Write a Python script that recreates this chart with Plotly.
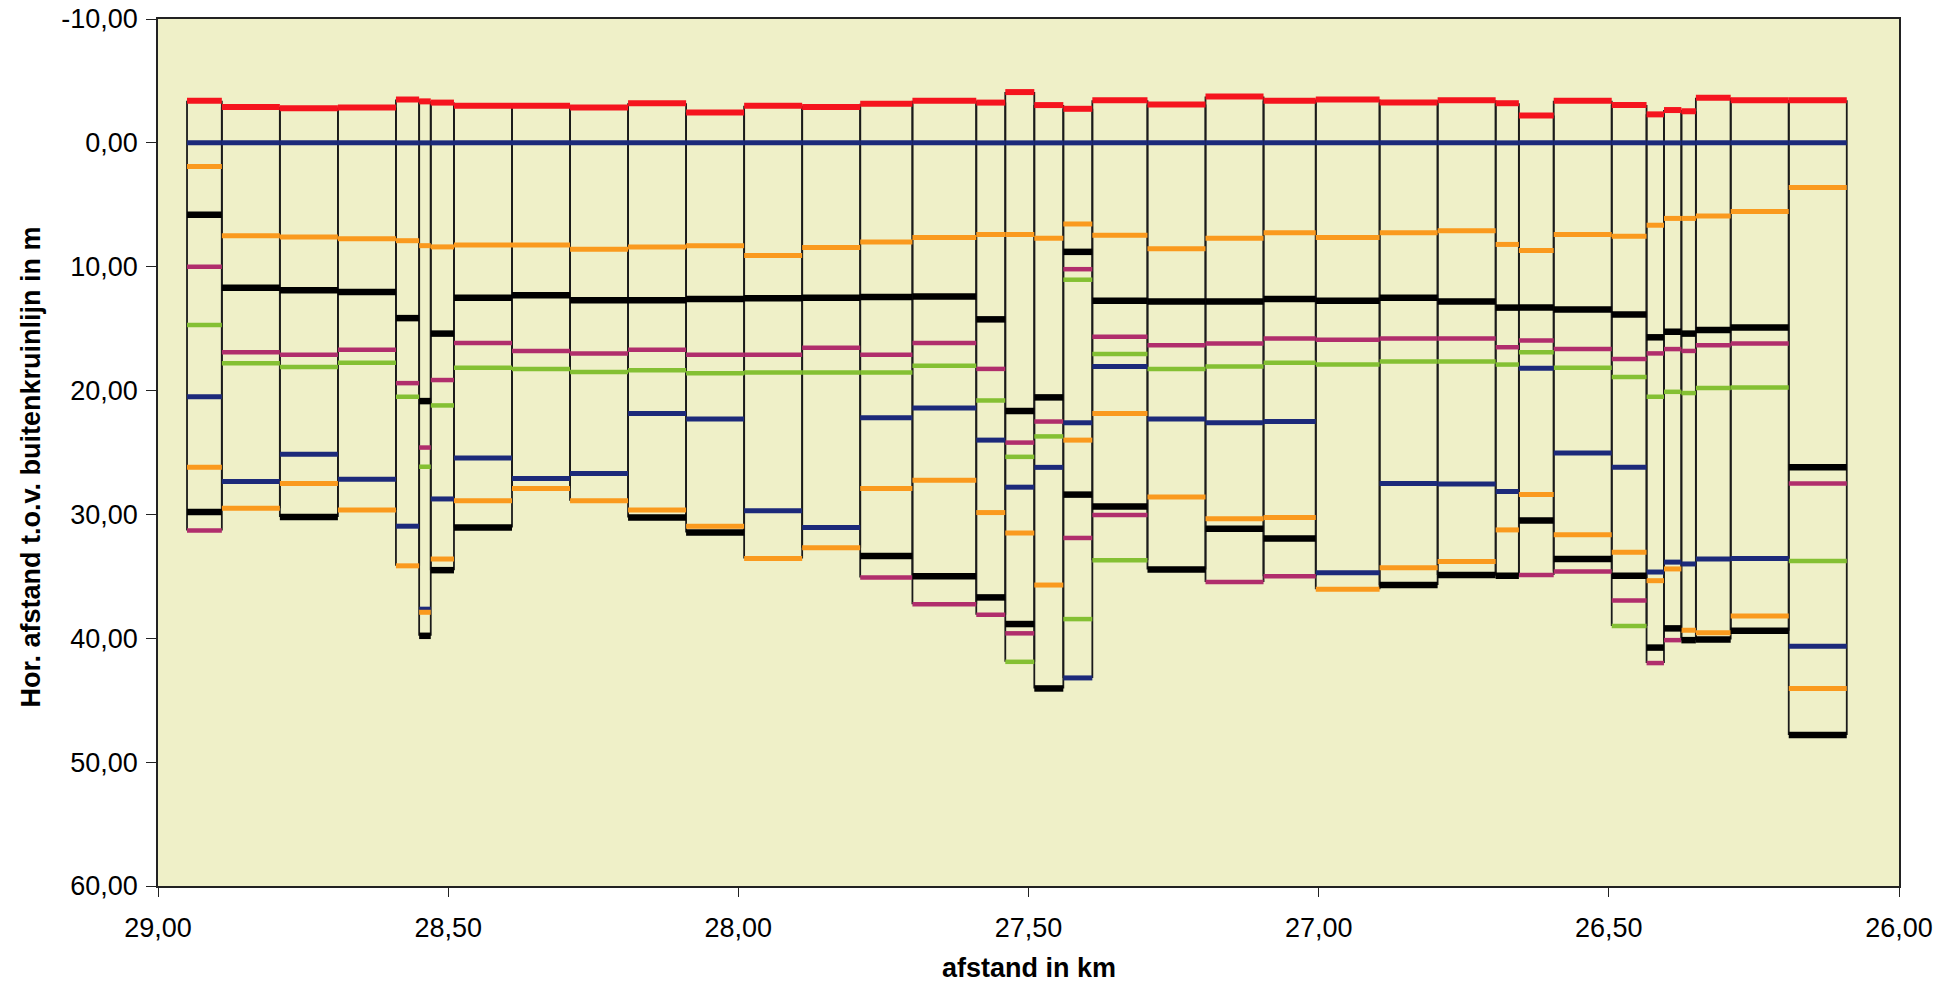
import plotly.graph_objects as go

# segment boundaries (km), 37 segments
bounds = [28.95, 28.89, 28.79, 28.69, 28.59, 28.55, 28.53, 28.49, 28.39, 28.29,
          28.19, 28.09, 27.99, 27.89, 27.79, 27.70, 27.59, 27.54, 27.49, 27.44,
          27.39, 27.295, 27.195, 27.095, 27.005, 26.895, 26.795, 26.695, 26.655, 26.595,
          26.495, 26.435, 26.405, 26.375, 26.35, 26.29, 26.19, 26.09]

N = None
red = [-3.4, -2.9, -2.8, -2.85, -3.5, -3.35, -3.25, -3.0, -3.0, -2.85,
       -3.2, -2.45, -3.0, -2.9, -3.15, -3.4, -3.25, -4.1, -3.05, -2.75,
       -3.45, -3.1, -3.75, -3.4, -3.5, -3.25, -3.45, -3.2, -2.2, -3.4,
       -3.05, -2.3, -2.65, -2.55, -3.65, -3.45, -3.45]
navy0 = [0.0] * 37
orange1 = [1.9, 7.5, 7.6, 7.75, 7.9, 8.3, 8.4, 8.25, 8.25, 8.6,
           8.4, 8.3, 9.1, 8.45, 8.0, 7.65, 7.4, 7.4, 7.7, 6.55,
           7.45, 8.55, 7.7, 7.25, 7.65, 7.25, 7.1, 8.2, 8.7, 7.4,
           7.55, 6.65, 6.1, 6.1, 5.9, 5.55, 3.6]
black1 = [5.8, 11.7, 11.9, 12.05, 14.15, 20.85, 15.4, 12.5, 12.3, 12.7,
          12.7, 12.6, 12.55, 12.5, 12.45, 12.4, 14.25, 21.65, 20.55, 8.8,
          12.75, 12.8, 12.8, 12.6, 12.75, 12.5, 12.8, 13.3, 13.3, 13.45,
          13.85, 15.7, 15.25, 15.4, 15.1, 14.9, 26.2]
purple1 = [10.0, 16.9, 17.1, 16.7, 19.4, 24.6, 19.15, 16.15, 16.8, 17.0,
           16.7, 17.1, 17.1, 16.55, 17.1, 16.15, 18.25, 24.2, 22.5, 10.2,
           15.65, 16.35, 16.2, 15.8, 15.9, 15.8, 15.8, 16.5, 15.95, 16.65,
           17.45, 17.0, 16.65, 16.8, 16.35, 16.2, 27.5]
green1 = [14.7, 17.8, 18.1, 17.75, 20.5, 26.15, 21.2, 18.15, 18.25, 18.5,
          18.35, 18.6, 18.55, 18.55, 18.55, 18.0, 20.8, 25.35, 23.7, 11.05,
          17.05, 18.25, 18.05, 17.75, 17.9, 17.65, 17.65, 17.9, 16.9, 18.15,
          18.9, 20.5, 20.1, 20.2, 19.8, 19.75, 33.75]
navy2 = [20.5, 27.35, 25.15, 27.15, 30.95, 37.65, 28.75, 25.45, 27.1, 26.7,
         21.85, 22.3, 29.7, 31.05, 22.2, 21.4, 24.0, 27.8, 26.2, 22.6,
         18.05, 22.3, 22.6, 22.5, 34.7, 27.5, 27.55, 28.15, 18.2, 25.05,
         26.2, 34.65, 33.85, 34.0, 33.6, 33.55, 40.65]
orange2 = [26.2, 29.5, 27.5, 29.65, 34.15, 37.9, 33.6, 28.9, 27.9, 28.9,
           29.65, 30.95, 33.55, 32.7, 27.9, 27.25, 29.85, 31.5, 35.7, 24.0,
           21.85, 28.6, 30.35, 30.25, 36.05, 34.3, 33.8, 31.25, 28.4, 31.65,
           33.05, 35.35, 34.4, 39.35, 39.55, 38.2, 44.05]
black2 = [29.8, N, 30.2, N, N, 39.8, 34.5, 31.05, N, N,
          30.25, 31.45, N, N, 33.35, 35.0, 36.7, 38.85, 44.05, 28.4,
          29.35, 34.45, 31.15, 31.95, N, 35.7, 34.9, 34.95, 30.5, 33.6,
          34.95, 40.75, 39.2, 40.15, 40.1, 39.4, 47.8]
purple2 = [31.3, N, N, N, N, N, N, N, N, N,
           N, N, N, N, 35.1, 37.25, 38.1, 39.6, N, 31.9,
           30.05, N, 35.45, 35.0, N, N, N, N, 34.9, 34.6,
           36.95, 42.0, 40.15, N, N, N, N]
green2 = [N, N, N, N, N, N, N, N, N, N,
          N, N, N, N, N, N, N, 41.9, N, 38.45,
          33.7, N, N, N, N, N, N, N, N, N,
          39.0, N, N, N, N, N, N]
navy3 = [N, N, N, N, N, N, N, N, N, N,
         N, N, N, N, N, N, N, N, N, 43.2,
         N, N, N, N, N, N, N, N, N, N,
         N, N, N, N, N, N, N]

x_ticks = [29.0, 28.5, 28.0, 27.5, 27.0, 26.5, 26.0]
x_labels = ["29,00", "28,50", "28,00", "27,50", "27,00", "26,50", "26,00"]
y_ticks = [-10, 0, 10, 20, 30, 40, 50, 60]
y_labels = ["-10,00", "0,00", "10,00", "20,00", "30,00", "40,00", "50,00", "60,00"]

series = [
    ("red", red, "#F5141E", 6),
    ("navy0", navy0, "#1C2A7A", 5),
    ("orange1", orange1, "#FA9A1E", 5),
    ("purple1", purple1, "#B02E6C", 4.5),
    ("green1", green1, "#84C033", 4.5),
    ("navy2", navy2, "#1C2A7A", 5),
    ("orange2", orange2, "#FA9A1E", 5),
    ("purple2", purple2, "#B02E6C", 4.5),
    ("green2", green2, "#84C033", 4.5),
    ("navy3", navy3, "#1C2A7A", 5),
    ("black1", black1, "#000000", 6.5),
    ("black2", black2, "#000000", 6.5),
]

fig = go.Figure()

# vertical box edges per segment
vx, vy = [], []
for i in range(37):
    vals = [s[1][i] for s in series if s[1][i] is not None]
    top, bot = min(vals), max(vals)
    for xb in (bounds[i], bounds[i + 1]):
        vx += [xb, xb, None]
        vy += [top, bot, None]
fig.add_trace(go.Scatter(x=vx, y=vy, mode="lines",
                         line=dict(color="#1a1a1a", width=1.8),
                         showlegend=False, hoverinfo="skip"))

for name, vals, color, w in series:
    xs, ys = [], []
    for i, v in enumerate(vals):
        if v is None:
            continue
        xs += [bounds[i], bounds[i + 1], None]
        ys += [v, v, None]
    fig.add_trace(go.Scatter(x=xs, y=ys, mode="lines", name=name,
                             line=dict(color=color, width=w),
                             showlegend=False))

font = "Liberation Sans, Arial, sans-serif"
fig.update_layout(
    width=1940, height=987,
    margin=dict(l=158, r=41, t=19, b=101),
    paper_bgcolor="white",
    plot_bgcolor="#EFF0C8",
    font=dict(family=font, size=27, color="black"),
    xaxis=dict(range=[29, 26], tickvals=x_ticks, ticktext=x_labels,
               automargin=False,
               showgrid=False, zeroline=False, showline=True, mirror=True,
               linecolor="#222", linewidth=1.5, ticks="outside", ticklen=9,
               tickcolor="#222", ticklabelstandoff=8),
    yaxis=dict(range=[60, -10], tickvals=y_ticks, ticktext=y_labels,
               automargin=False,
               showgrid=False, zeroline=False, showline=True, mirror=True,
               linecolor="#222", linewidth=1.5, ticks="outside", ticklen=10,
               tickcolor="#222", ticklabelstandoff=3),
    annotations=[
        dict(text="<b>afstand in km</b>", xref="paper", yref="paper",
             x=0.5, y=0, xanchor="center", yanchor="middle", yshift=-82,
             showarrow=False, font=dict(size=27)),
        dict(text="<b>Hor. afstand t.o.v. buitenkruinlijn in m</b>",
             xref="paper", yref="paper", x=0, y=0.5, xanchor="center",
             yanchor="middle", xshift=-128, yshift=-15, textangle=-90,
             showarrow=False, font=dict(size=27)),
    ],
)

fig.write_html("out.html")
